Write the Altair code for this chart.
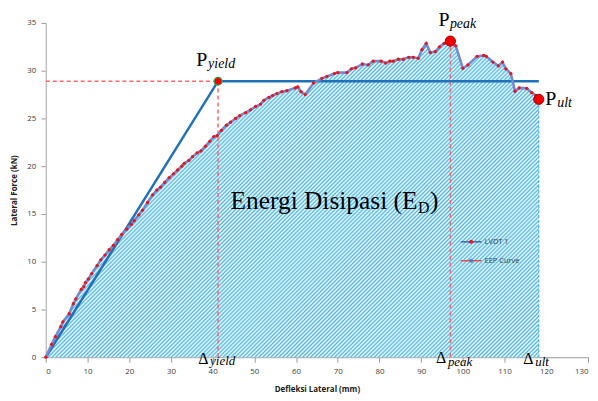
import altair as alt
import pandas as pd
import math

# ---------------- data ----------------
lvdt_x = [0, 1.4, 2.3, 3.6, 4.1, 5.6, 6.6, 7.2, 8.5, 9.1, 9.5, 10.2, 11.0, 12.3, 13.2,
          14.2, 15.2, 16.2, 17.2, 18.2, 19.4, 20.5, 21.2, 22.3, 23.2, 24.4, 25.6, 26.6,
          27.5, 28.5, 29.6, 30.6, 31.6, 32.6, 33.2, 34.3, 35.2, 36.3, 37.2, 38.3, 39.3,
          40.3, 41.1, 42.1, 43.3, 44.3, 45.5, 46.5, 47.9, 49.1, 50.3, 51.5, 52.3, 53.5,
          54.4, 55.4, 56.6, 57.8, 59.8, 60.4, 61.2, 62.2, 64.2, 66.2, 67.4, 69.2, 70.0,
          72.2, 73.3, 74.3, 75.9, 77.3, 78.5, 80.4, 81.5, 82.5, 83.3, 84.5, 85.7, 87.0,
          88.1, 89.3, 90.2, 91.2, 92.2, 93.4, 94.4, 95.5, 97.0, 98.3, 100.0, 101.2, 103.4,
          105.0, 105.6, 107.2, 108.5, 109.5, 110.3, 111.5, 112.5, 113.5, 115.3, 116.5,
          117.5, 118.2]
lvdt_y = [0, 1.35, 2.15, 3.2, 3.7, 4.55, 5.6, 6.1, 7.1, 7.4, 7.8, 8.2, 8.75, 9.6, 10.2,
          10.7, 11.25, 11.7, 12.3, 12.85, 13.4, 13.9, 14.3, 14.9, 15.4, 16.2, 17.0, 17.5,
          17.8, 18.3, 18.8, 19.2, 19.6, 20.0, 20.3, 20.6, 21.0, 21.4, 21.6, 22.1, 22.6,
          23.1, 23.2, 23.75, 24.3, 24.6, 25.0, 25.3, 25.6, 25.9, 26.25, 26.5, 26.9, 27.2,
          27.4, 27.6, 27.8, 27.9, 28.2, 28.3, 27.8, 27.5, 28.7, 29.2, 29.4, 29.7, 29.8,
          29.8, 30.2, 30.3, 30.7, 30.6, 31.0, 31.0, 30.8, 31.0, 31.0, 31.2, 31.2, 31.4,
          31.4, 31.3, 32.2, 32.85, 31.9, 32.0, 32.5, 32.85, 33.1, 32.6, 30.25, 30.6, 31.5,
          31.6, 31.5, 30.9, 30.5, 30.9, 30.2, 29.7, 27.85, 28.2, 28.15, 27.7,
          27.4, 27.0]

eep_x = [0, 41.3, 118.2]
eep_y = [0, 28.9, 28.9]

key_names = ["yield", "peak", "ult"]
key_x = [41.3, 97.0, 118.2]
key_y = [28.9, 33.1, 27.0]

x_ticks = list(range(0, 131, 10))
y_ticks = list(range(0, 36, 5))
legend_labels = ["LVDT 1", "EEP Curve"]

# ---------------- layout / styles ----------------
W, H = 545, 336
XMAX, YMAX = 130, 35
SERIF = "Liberation Serif"
SANS = "Open Sans"

lv = pd.DataFrame({"x": lvdt_x, "y": lvdt_y})
eep = pd.DataFrame({"x": eep_x, "y": eep_y})
keys = pd.DataFrame({"name": key_names, "x": key_x, "y": key_y})

xenc = alt.X("x:Q", scale=alt.Scale(domain=[0, XMAX], nice=False, zero=False),
             axis=alt.Axis(values=x_ticks, title="Defleksi Lateral (mm)", grid=False,
                           labelPadding=5, titlePadding=10))
yenc = alt.Y("y:Q", scale=alt.Scale(domain=[0, YMAX], nice=False, zero=False),
             axis=alt.Axis(values=y_ticks, title="Lateral Force (kN)", grid=False,
                           labelPadding=5, titlePadding=8))

# hatch pattern emulated with a striped linear gradient ("/" diagonal lines);
# a smooth (triangle) stripe profile keeps it free of moire bands
wa = max(lvdt_x) / XMAX * W
ha = max(lvdt_y) / YMAX * H
r = ha / wa
period = 4.0
n = int(math.ceil((wa + ha) / period))
L = n * period
ga = L / (wa * (1 + r * r))
gb = ga * r
stripe = "#48b6ec"
stops = []
for i in range(n):
    stops += [alt.GradientStop(color=stripe, offset=i / n),
              alt.GradientStop(color="#ffffff", offset=(i + 0.5) / n)]
stops.append(alt.GradientStop(color=stripe, offset=1.0))
hatch = alt.Gradient(gradient="linear", stops=stops, x1=0, y1=0, x2=ga, y2=gb)

area = alt.Chart(lv).mark_area(fill=hatch, interpolate="linear").encode(x=xenc, y=yenc)

# dashed guide lines
red_seg = pd.DataFrame({
    "x": [0, key_x[0], key_x[1]],
    "x2": [key_x[0], key_x[0], key_x[1]],
    "y": [key_y[0], 0, 0],
    "y2": [key_y[0], key_y[0], key_y[1]],
})
red_dash = alt.Chart(red_seg).mark_rule(color="#f46a6a", strokeDash=[4, 3], strokeWidth=1.5).encode(
    x=xenc, x2="x2:Q", y=yenc, y2="y2:Q")

ult_seg = pd.DataFrame({"x": [key_x[2]], "x2": [key_x[2]], "y": [0], "y2": [key_y[2]]})
ult_dash = alt.Chart(ult_seg).mark_rule(color="#4fb3e8", strokeDash=[3, 2], strokeWidth=1.2).encode(
    x=xenc, x2="x2:Q", y=yenc, y2="y2:Q")

eep_line = alt.Chart(eep).mark_line(color="#1f72b8", strokeWidth=2.5).encode(x=xenc, y=yenc)

lv_line = alt.Chart(lv).mark_line(color="#7489cf", strokeWidth=2.6).encode(x=xenc, y=yenc)
lv_pts = alt.Chart(lv).mark_point(shape="circle", filled=True, size=11, color="#e8141c",
                                  opacity=1).encode(x=xenc, y=yenc)

yield_pt = alt.Chart(keys[keys.name == "yield"]).mark_point(
    shape="circle", filled=True, size=60, fill="#f00000", stroke="#3a9a3a", strokeWidth=1.2, opacity=1
).encode(x=xenc, y=yenc)
other_pts = alt.Chart(keys[keys.name != "yield"]).mark_point(
    shape="circle", filled=True, size=105, fill="#f00000", stroke="#a00000", strokeWidth=1, opacity=1
).encode(x=xenc, y=yenc)


def klabel(name, text, dx, dy, size, italic, at_zero=False):
    d = keys[keys.name == name].copy()
    if at_zero:
        d["y"] = 0
    return alt.Chart(d).mark_text(
        text=text, dx=dx, dy=dy, align="left", baseline="alphabetic", font=SERIF,
        fontSize=size, fontStyle="italic" if italic else "normal", color="#000000"
    ).encode(x=xenc, y=yenc)


labels = [
    klabel("yield", "P", -22, -15, 20, False),
    klabel("yield", "yield", -10, -13, 14, True),
    klabel("peak", "P", -12, -15, 20, False),
    klabel("peak", "peak", -0.5, -13, 14, True),
    klabel("ult", "P", 6.5, 6, 20, False),
    klabel("ult", "ult", 18.5, 8, 14, True),
    klabel("yield", "\u0394", -20, 6.5, 16, False, True),
    klabel("yield", "yield", -8, 8, 13, True, True),
    klabel("peak", "\u0394", -14.5, 6, 16, False, True),
    klabel("peak", "peak", -2.5, 8.5, 13, True, True),
    klabel("ult", "\u0394", -15.5, 6.5, 16, False, True),
    klabel("ult", "ult", -3.5, 9, 13, True, True),
]

ed = pd.DataFrame({"x": [44.3], "y": [15.5]})
ed_main = alt.Chart(ed).mark_text(text="Energi Disipasi (E", align="left", baseline="alphabetic",
                                  font=SERIF, fontSize=25.5, color="#000000").encode(x=xenc, y=yenc)
ed_sub = alt.Chart(ed).mark_text(text="D", align="left", baseline="alphabetic", dx=188.5, dy=4,
                                 font=SERIF, fontSize=16, color="#000000").encode(x=xenc, y=yenc)
ed_close = alt.Chart(ed).mark_text(text=")", align="left", baseline="alphabetic", dx=200.5,
                                   font=SERIF, fontSize=25.5, color="#000000").encode(x=xenc, y=yenc)

# manual legend
one = pd.DataFrame({"a": [0]})
leg = [
    alt.Chart(one).mark_rule(color="#3f63ad", strokeWidth=1.5).encode(
        x=alt.value(417), x2=alt.value(438), y=alt.value(220)),
    alt.Chart(one).mark_point(shape="circle", filled=True, size=16, color="#e8141c", opacity=1).encode(
        x=alt.value(427.5), y=alt.value(220)),
    alt.Chart(one).mark_text(text=legend_labels[0], align="left", baseline="middle", font=SANS,
                             fontSize=7.5, color="#404040").encode(x=alt.value(441), y=alt.value(220)),
    alt.Chart(one).mark_rule(color="#ec4a4a", strokeWidth=1.5).encode(
        x=alt.value(417), x2=alt.value(438), y=alt.value(239)),
    alt.Chart(one).mark_point(shape="circle", filled=True, size=16, color="#4f81bd", opacity=1).encode(
        x=alt.value(427.5), y=alt.value(239)),
    alt.Chart(one).mark_text(text=legend_labels[1], align="left", baseline="middle", font=SANS,
                             fontSize=7.5, color="#404040").encode(x=alt.value(441), y=alt.value(239)),
]

chart = alt.layer(
    area, ult_dash, red_dash, eep_line, lv_line, lv_pts, yield_pt, other_pts,
    *labels, ed_main, ed_sub, ed_close, *leg
).properties(
    width=W, height=H,
    autosize=alt.AutoSizeParams(type="none"),
    padding={"left": 38, "top": 14, "right": 2, "bottom": 45},
).configure_view(stroke=None).configure_axis(
    labelFont=SANS, labelFontSize=8, labelColor="#404040",
    titleFont=SANS, titleFontSize=8, titleFontWeight="bold", titleColor="#202020",
    domainColor="#9a9a9a", domainWidth=1, tickColor="#9a9a9a", tickSize=5,
).configure_axisY(domainColor="#c0c0c0", domainWidth=1.5)

chart.save("out.html", embed_options={"renderer": "svg", "actions": False})
